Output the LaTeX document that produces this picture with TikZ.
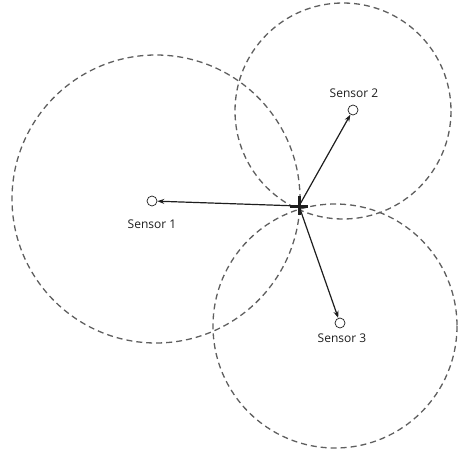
\documentclass[tikz,border=0pt]{standalone}
\usepackage{fontspec}
\setmainfont{Open Sans}
\usetikzlibrary{arrows.meta}
\definecolor{rangegray}{RGB}{95,95,95}
\definecolor{inkgray}{RGB}{30,30,30}
\begin{document}
\begin{tikzpicture}[x=1pt,y=-1pt,
  rangecircle/.style={draw=rangegray,dash pattern=on 6pt off 4pt,line width=1.3pt},
  sensor/.style={circle,draw=inkgray,line width=0.7pt,minimum size=10pt,inner sep=0pt},
  lbl/.style={font=\fontsize{12}{14}\selectfont,text=inkgray,inner sep=0pt},
  ray/.style={draw=inkgray,line width=1.2pt,-{Stealth[length=7pt,width=5pt]}}
]
\useasboundingbox (0,0) rectangle (458,452);
% range circles
\draw[rangecircle] (156,199) circle[radius=144];
\draw[rangecircle] (343,111) circle[radius=108];
\draw[rangecircle] (335,326) circle[radius=122];
% sensors
\node[sensor] (s1) at (152,201) {};
\node[sensor] (s2) at (353,110) {};
\node[sensor] (s3) at (340,323) {};
\node[lbl] (l1) at (152,224) {Sensor 1};
\node[lbl] (l2) at (354,93) {Sensor 2};
\node[lbl] (l3) at (342,338) {Sensor 3};
% estimated position
\coordinate (p) at (299,206);
\draw[ray] (p) -- (s1);
\draw[ray] (p) -- (s2);
\draw[ray] (p) -- (s3);
\draw[inkgray,line width=3pt] (290,206) -- (308,206);
\draw[inkgray,line width=3pt] (299,196) -- (299,215);
\end{tikzpicture}
\end{document}
